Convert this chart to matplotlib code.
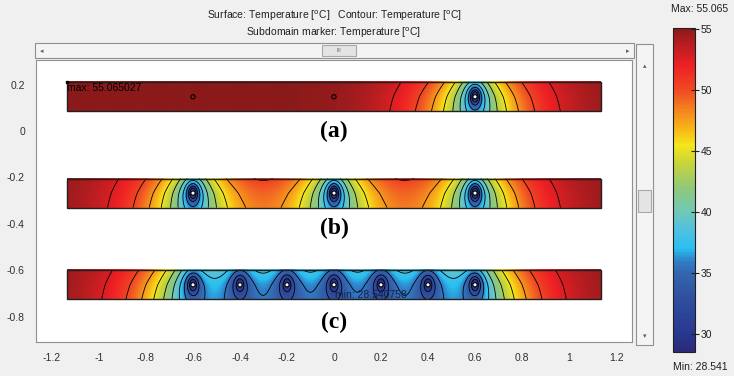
import matplotlib
matplotlib.use('Agg')
import matplotlib.pyplot as plt
import numpy as np
from matplotlib.colors import LinearSegmentedColormap
from matplotlib.patches import Rectangle, Circle

# data
t_max = 55.065027
t_min = 28.540758
strip_x = [-1.135, 1.135]
strip_bottom = [0.085, -0.33, -0.725]
strip_h = 0.125
pipes = [[0.6],
         [-0.6, 0.0, 0.6],
         [-0.6, -0.4, -0.2, 0.0, 0.2, 0.4, 0.6]]
idle_pipes = [[-0.6, 0.0], [], []]
panel_labels = ['(a)', '(b)', '(c)']
panel_label_y = [0.0, -0.418, -0.823]
cbar_ticks = [30, 35, 40, 45, 50, 55]
x_ticks = [-1.2, -1, -0.8, -0.6, -0.4, -0.2, 0, 0.2, 0.4, 0.6, 0.8, 1, 1.2]
y_ticks = [0.2, 0, -0.2, -0.4, -0.6, -0.8]

# colour scale sampled from the colour bar
cmap_t = [28.54, 30, 33, 35, 36, 37, 38.5, 40, 42, 44, 45.5, 47, 48.5, 50, 52, 53.5, 55.07]
cmap_c = ['#2a2a78', '#283890', '#30509e', '#3466b0', '#3080c8', '#28c0f0', '#50c0e0',
          '#70c8b8', '#90c878', '#c8d43a', '#f5e61a', '#f8b018', '#f48020', '#f04a24',
          '#ee2024', '#c01e22', '#8b1a1a']
pos = [(t - cmap_t[0]) / (cmap_t[-1] - cmap_t[0]) for t in cmap_t]
cmap = LinearSegmentedColormap.from_list('comsol', list(zip(pos, cmap_c)))

levels = np.linspace(t_min, t_max, 12)[1:-1]

# simple cooled-strip model: every pipe pulls the plate down towards t_floor,
# the heated top side stays a little warmer than the bottom
t_floor = 28.6
A = 0.35
p = 1.1
c_vert = 0.6


def field(xp_list, yc, X, Y):
    hh = strip_h / 2
    rng = t_max - t_floor
    lsum = np.zeros_like(X)
    for xp in xp_list:
        r = np.hypot(X - xp, c_vert * (Y - yc))
        r = np.maximum(r, 1e-3)
        g = 0.12 * np.log1p((0.6 / r) ** 2) * np.exp(-(r / 0.45) ** 2)
        g = np.clip(g, 0, 0.97)
        lsum += (-np.log(1 - g)) ** p
    d = rng * (1 - np.exp(-lsum ** (1 / p)))
    s = (Y - yc) / hh
    s = np.where(s < 0, 0.7 * s, s)
    d = d - A * s * d ** 1.25 * (rng - d) / rng ** 1.25
    return np.clip(t_max - d, t_min, t_max)


fig = plt.figure(figsize=(7.34, 3.76), dpi=100)
fig.patch.set_facecolor('#f0f0f0')

ax = fig.add_axes([36 / 734, 1 - 342 / 376, 596 / 734, 282 / 376])
ax.set_facecolor('white')

for i in range(3):
    y0 = strip_bottom[i]
    yc = y0 + strip_h / 2
    x = np.linspace(strip_x[0], strip_x[1], 1400)
    y = np.linspace(y0, y0 + strip_h, 90)
    X, Y = np.meshgrid(x, y)
    T = field(pipes[i], yc, X, Y)
    ax.imshow(T, extent=[strip_x[0], strip_x[1], y0, y0 + strip_h], origin='lower',
              cmap=cmap, vmin=t_min, vmax=t_max, aspect='auto', interpolation='bilinear', zorder=1)
    ax.contour(X, Y, T, levels=levels, colors='k', linewidths=0.6, zorder=2)
    ax.add_patch(Rectangle((strip_x[0], y0), strip_x[1] - strip_x[0], strip_h,
                           fill=False, ec='#202020', lw=1.0, zorder=4))
    for xp in pipes[i]:
        ax.add_patch(Circle((xp, yc), 0.009, fc='white', ec='k', lw=0.8, zorder=5))
    for xp in idle_pipes[i]:
        ax.add_patch(Circle((xp, yc), 0.009, fc='none', ec='k', lw=0.8, zorder=5))
    ax.text(0, panel_label_y[i], panel_labels[i], ha='center', va='center',
            fontsize=17, fontweight='bold', family='Liberation Serif', zorder=6)

ax.plot([strip_x[0]], [strip_bottom[0] + strip_h], 'ks', ms=2, zorder=6)
ax.text(strip_x[0], strip_bottom[0] + strip_h - 0.005, 'max: 55.065027', ha='left', va='top',
        fontsize=7.5, family='Liberation Sans', zorder=6)
ax.text(0.004, strip_bottom[2] - 0.004, 'min: 28.540758', ha='left', va='bottom',
        fontsize=7.5, family='Liberation Sans', color='#15204a', zorder=6)

ax.set_xlim(-1.268, 1.268)
ax.set_ylim(-0.909, 0.306)
ax.set_xticks(x_ticks)
ax.set_xticklabels(['%g' % v for v in x_ticks])
ax.set_yticks(y_ticks)
ax.set_yticklabels(['%g' % v for v in y_ticks])
ax.tick_params(length=0, labelsize=7.5, colors='#303030', pad=8)
for lab in ax.get_xticklabels() + ax.get_yticklabels():
    lab.set_family('Liberation Sans')
for s in ax.spines.values():
    s.set_color('#909090')
    s.set_linewidth(0.8)

# scroll bars of the viewer window
def fig_rect(x0, y0, x1, y1, fc, ec='#a0a0a0', lw=0.8):
    fig.patches.append(Rectangle((x0 / 734, 1 - y1 / 376), (x1 - x0) / 734, (y1 - y0) / 376,
                                 transform=fig.transFigure, fc=fc, ec=ec, lw=lw, figure=fig))

fig_rect(35, 43, 634, 58, '#f4f4f4', '#909090')
fig_rect(322, 45, 356, 56, '#e4e4e4', '#a8a8a8')
fig_rect(636, 44, 653, 345, '#f4f4f4', '#909090')
fig_rect(638, 190, 651, 212, '#e4e4e4', '#a8a8a8')
fig.text(40 / 734, 1 - 51 / 376, '\u25c2', fontsize=5, color='#606060', va='center')
fig.text(626 / 734, 1 - 51 / 376, '\u25b8', fontsize=5, color='#606060', va='center')
fig.text(644.5 / 734, 1 - 66 / 376, '\u25b4', fontsize=5, color='#606060', ha='center', va='center')
fig.text(644.5 / 734, 1 - 336 / 376, '\u25be', fontsize=5, color='#606060', ha='center', va='center')
fig.text(339 / 734, 1 - 51 / 376, 'III', fontsize=4, color='#707070', ha='center', va='center')

fig.text(334 / 734, 1 - 16 / 376,
         'Surface: Temperature [$^{\\mathrm{o}}$C]   Contour: Temperature [$^{\\mathrm{o}}$C]',
         ha='center', va='center', fontsize=7.5, family='Liberation Sans', color='#202020')
fig.text(334 / 734, 1 - 33 / 376, 'Subdomain marker: Temperature [$^{\\mathrm{o}}$C]',
         ha='center', va='center', fontsize=7.5, family='Liberation Sans', color='#202020')

# colour bar
cax = fig.add_axes([673 / 734, 1 - 352 / 376, 22 / 734, 324 / 376])
sm = plt.cm.ScalarMappable(cmap=cmap, norm=plt.Normalize(t_min, t_max))
cb = fig.colorbar(sm, cax=cax, ticks=cbar_ticks)
cb.outline.set_edgecolor('#202020')
cb.outline.set_linewidth(0.8)
cax.tick_params(direction='inout', length=6, width=0.8, labelsize=7.5, colors='#202020', pad=1)
for lab in cax.get_yticklabels():
    lab.set_family('Liberation Sans')
fig.text(700 / 734, 1 - 9 / 376, 'Max: 55.065', ha='center', va='center', fontsize=7.5,
         family='Liberation Sans', color='#202020')
fig.text(700 / 734, 1 - 367 / 376, 'Min: 28.541', ha='center', va='center', fontsize=7.5,
         family='Liberation Sans', color='#202020')

fig.savefig('out.png', dpi=100, facecolor=fig.get_facecolor())
